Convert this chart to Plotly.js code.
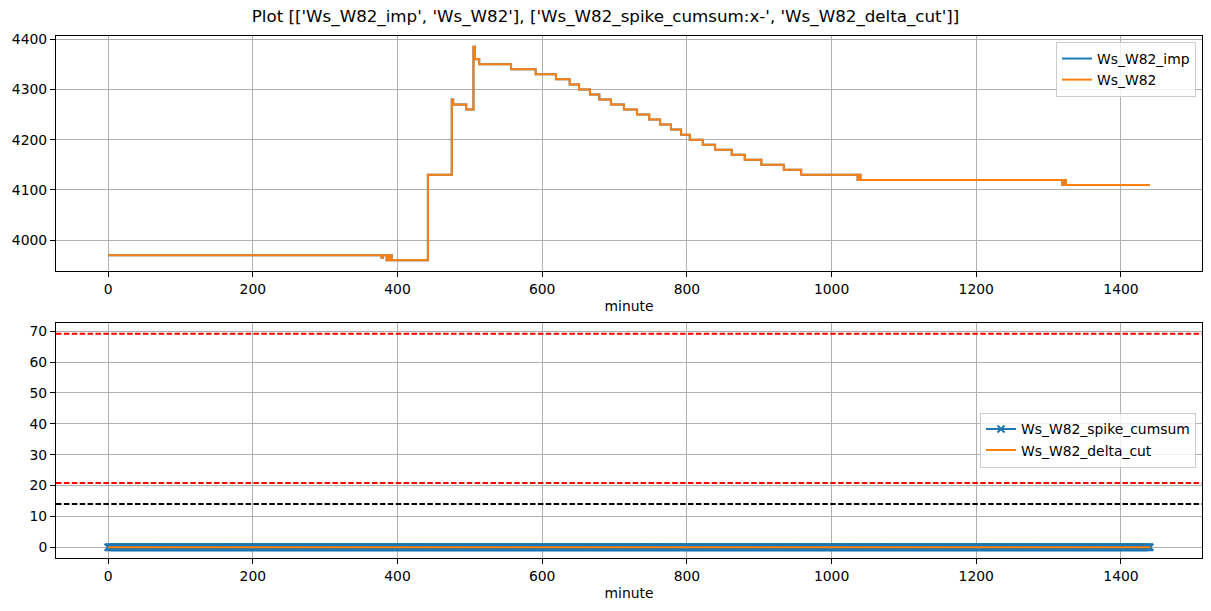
<!DOCTYPE html>
<html>
<head>
<meta charset="utf-8">
<script src="https://cdn.plot.ly/plotly-3.0.1.min.js"></script>
<style>
  html, body { margin: 0; padding: 0; background: #ffffff; }
  #chart { width: 1211px; height: 611px; }
</style>
</head>
<body>
<div id="chart"></div>
<script>
// ---- Data ----
// Ws_W82 / Ws_W82_imp: minute at which the value changes, and the new value
const wsMinutes = [0, 378, 380, 385, 386, 388, 390, 392, 442, 475, 477, 495, 505, 507, 513, 557,
  591, 619, 638, 651, 666, 679, 695, 713, 731, 748, 763, 778, 792, 804, 822, 839, 862, 880, 903,
  934, 958, 1036, 1038, 1040, 1319, 1321, 1324, 1440];
const wsValues = [3970, 3965, 3970, 3960, 3970, 3960, 3970, 3960, 4130, 4280, 4270, 4260, 4385, 4360, 4350, 4340,
  4330, 4320, 4310, 4300, 4290, 4280, 4270, 4260, 4250, 4240, 4230, 4220, 4210, 4200, 4190, 4180, 4170, 4160, 4150,
  4140, 4130, 4120, 4130, 4120, 4110, 4120, 4110, 4110];
const wsImpMinutes = wsMinutes;
const wsImpValues = wsValues;

// Ws_W82_spike_cumsum: runs of [firstMinute, lastMinute, value], one point per minute
const spikeCumsumRuns = [[0, 1440, 0]];
// Ws_W82_delta_cut: runs of [firstMinute, lastMinute, value]
const deltaCutRuns = [[0, 1440, 0]];

// horizontal threshold lines in the lower panel
const hlineValues = [69.2, 20.8, 14.0];
const hlineColors = ['#ff0000', '#ff0000', '#000000'];

const xTicks = [0, 200, 400, 600, 800, 1000, 1200, 1400];
const titleText = "Plot [['Ws_W82_imp', 'Ws_W82'], ['Ws_W82_spike_cumsum:x-', 'Ws_W82_delta_cut']]";

// expand run-length data into one point per minute
function expandRuns(runs) {
  const xs = [], ys = [];
  runs.forEach(function (r) {
    for (let m = r[0]; m <= r[1]; m++) { xs.push(m); ys.push(r[2]); }
  });
  return { x: xs, y: ys };
}
const spike = expandRuns(spikeCumsumRuns);
const delta = expandRuns(deltaCutRuns);

const BLUE = '#1f77b4', ORANGE = '#ff7f0e';
const FONT = 'DejaVu Sans, Liberation Sans, sans-serif';

const traces = [
  { x: wsImpMinutes, y: wsImpValues, type: 'scatter', mode: 'lines', name: 'Ws_W82_imp',
    line: { color: BLUE, width: 2, shape: 'hv' }, xaxis: 'x', yaxis: 'y', legend: 'legend' },
  { x: wsMinutes, y: wsValues, type: 'scatter', mode: 'lines', name: 'Ws_W82',
    line: { color: ORANGE, width: 2, shape: 'hv' }, xaxis: 'x', yaxis: 'y', legend: 'legend' },
  { x: spike.x, y: spike.y, type: 'scatter', mode: 'lines+markers', name: 'Ws_W82_spike_cumsum',
    line: { color: BLUE, width: 2 },
    marker: { symbol: 'x-thin', size: 7, color: BLUE, line: { color: BLUE, width: 2 } },
    xaxis: 'x2', yaxis: 'y2', legend: 'legend2' },
  { x: delta.x, y: delta.y, type: 'scatter', mode: 'lines', name: 'Ws_W82_delta_cut',
    line: { color: ORANGE, width: 2 }, xaxis: 'x2', yaxis: 'y2', legend: 'legend2' }
];

const shapes = hlineValues.map(function (v, i) {
  return { type: 'line', xref: 'x2 domain', yref: 'y2', x0: 0, x1: 1, y0: v, y1: v,
    line: { color: hlineColors[i], width: 2, dash: '5.5px,2.4px' } };
});

function xAxis(anchor) {
  return {
    anchor: anchor, domain: [56 / 1211, 1202 / 1211], range: [-72, 1512],
    tickmode: 'array', tickvals: xTicks, ticktext: xTicks.map(String),
    showgrid: true, gridcolor: '#b0b0b0', gridwidth: 1,
    showline: true, linecolor: '#000000', linewidth: 1, mirror: true,
    ticks: 'outside', ticklen: 5, tickwidth: 1, tickcolor: '#000000',
    zeroline: false, tickfont: { family: FONT, size: 13.9, color: '#000000' },
    title: { text: 'minute', standoff: 5, font: { family: FONT, size: 13.9, color: '#000000' } }
  };
}
function yAxis(anchor, domain, range, dtick) {
  return {
    anchor: anchor, domain: domain, range: range, tick0: 0, dtick: dtick,
    showgrid: true, gridcolor: '#b0b0b0', gridwidth: 1,
    showline: true, linecolor: '#000000', linewidth: 1, mirror: true,
    ticks: 'outside', ticklen: 5, tickwidth: 1, tickcolor: '#000000',
    zeroline: false, tickfont: { family: FONT, size: 13.9, color: '#000000' }
  };
}

const legendCommon = {
  xref: 'paper', yref: 'paper', xanchor: 'right',
  bgcolor: 'rgba(255,255,255,0.8)', bordercolor: '#cccccc', borderwidth: 1,
  font: { family: FONT, size: 13.9, color: '#000000' }, itemwidth: 30, tracegroupgap: 0
};

const layout = {
  width: 1211, height: 611,
  margin: { l: 0, r: 0, t: 0, b: 0 },
  paper_bgcolor: '#ffffff', plot_bgcolor: '#ffffff',
  font: { family: FONT, color: '#000000' },
  title: { text: titleText, x: 0.5, xanchor: 'center', xref: 'paper',
    y: 1 - 16 / 611, yref: 'container', yanchor: 'middle',
    font: { family: FONT, size: 16.7, color: '#000000' } },
  xaxis: xAxis('y'),
  yaxis: yAxis('x', [(611 - 271) / 611, (611 - 36) / 611], [3938.75, 4406.25], 100),
  xaxis2: xAxis('y2'),
  yaxis2: yAxis('x2', [(611 - 558) / 611, (611 - 323) / 611], [-3.46, 72.66], 10),
  shapes: shapes,
  showlegend: true,
  legend: Object.assign({}, legendCommon, { x: 1196 / 1211, y: (611 - 42) / 611, yanchor: 'top' }),
  legend2: Object.assign({}, legendCommon, { x: 1196 / 1211, y: (611 - 440) / 611, yanchor: 'middle' })
};

Plotly.newPlot('chart', traces, layout, { staticPlot: true, displayModeBar: false });
</script>
</body>
</html>
